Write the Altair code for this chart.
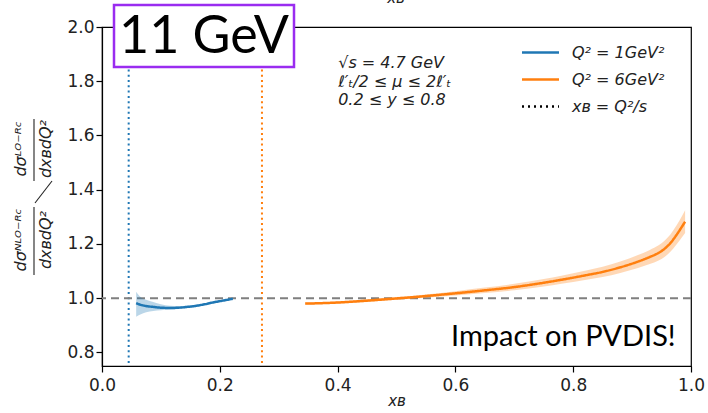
import altair as alt
import pandas as pd

# ---------------- data ----------------
blue_x  = [0.058, 0.065, 0.075, 0.087, 0.100, 0.115, 0.130, 0.145, 0.160, 0.175, 0.190, 0.205, 0.222]
blue_y  = [0.982, 0.976, 0.971, 0.968, 0.965, 0.964, 0.965, 0.968, 0.972, 0.978, 0.985, 0.991, 0.998]
blue_lo = [0.932, 0.940, 0.948, 0.953, 0.956, 0.958, 0.960, 0.964, 0.968, 0.975, 0.982, 0.989, 0.996]
blue_hi = [1.024, 1.005, 0.994, 0.986, 0.978, 0.972, 0.971, 0.972, 0.976, 0.981, 0.988, 0.993, 1.000]

orange_x  = [0.345, 0.40, 0.45, 0.50, 0.55, 0.60, 0.65, 0.70, 0.75, 0.78, 0.82, 0.85, 0.88, 0.91, 0.93, 0.945, 0.955, 0.965, 0.975, 0.985, 0.99]
orange_y  = [0.980, 0.984, 0.991, 0.999, 1.008, 1.018, 1.029, 1.041, 1.057, 1.068, 1.084, 1.097, 1.114, 1.135, 1.152, 1.167, 1.182, 1.203, 1.232, 1.265, 1.282]
orange_lo = [0.976, 0.980, 0.986, 0.994, 1.002, 1.010, 1.019, 1.029, 1.043, 1.053, 1.067, 1.078, 1.093, 1.111, 1.126, 1.139, 1.152, 1.171, 1.197, 1.226, 1.240]
orange_hi = [0.984, 0.988, 0.996, 1.004, 1.014, 1.026, 1.039, 1.053, 1.071, 1.083, 1.101, 1.116, 1.135, 1.159, 1.178, 1.195, 1.212, 1.235, 1.267, 1.304, 1.324]

series_names = ["Q² = 1GeV²", "Q² = 6GeV²", "xʙ = Q²/s"]
series_colors = ["#1f77b4", "#ff7f0e", "#000000"]

xq_values = [0.0453, 0.2716]          # x_B = Q^2/s for the two Q^2
xq_colors = ["#1f77b4", "#ff7f0e"]
ref_y = [1.0]

x_ticks = [0.0, 0.2, 0.4, 0.6, 0.8, 1.0]
y_ticks = [0.8, 1.0, 1.2, 1.4, 1.6, 1.8, 2.0]

info_lines = ["√s = 4.7 GeV", "ℓ′ₜ/2 ≤ μ ≤ 2ℓ′ₜ", "0.2 ≤ y ≤ 0.8"]
info_x = [0.401, 0.401, 0.401]
info_y = [1.866, 1.796, 1.730]

impact_text = ["Impact on PVDIS!"]
impact_x = [0.974]
impact_y = [0.822]

# ---------------- tables ----------------
lines_df = pd.DataFrame({
    "x": blue_x + orange_x,
    "y": blue_y + orange_y,
    "series": [series_names[0]] * len(blue_x) + [series_names[1]] * len(orange_x),
})
blue_df = pd.DataFrame({"x": blue_x, "lo": blue_lo, "hi": blue_hi})
orange_df = pd.DataFrame({"x": orange_x, "lo": orange_lo, "hi": orange_hi})
xq_df = pd.DataFrame({"x": xq_values, "c": xq_colors})
ref_df = pd.DataFrame({"y": ref_y})
info_df = pd.DataFrame({"x": info_x, "y": info_y, "t": info_lines})
impact_df = pd.DataFrame({"x": impact_x, "y": impact_y, "t": impact_text})

xscale = alt.Scale(domain=[0, 1], nice=False, zero=False)
yscale = alt.Scale(domain=[0.75, 2.0], nice=False, zero=False)
xaxis = alt.Axis(values=x_ticks, format=".1f", title="xʙ", titleFont="DejaVu Sans",
                 titleFontStyle="italic", titleFontWeight="normal", titleFontSize=15,
                 titleColor="#222", titlePadding=0, labelPadding=5, labelFlush=False)
yaxis = alt.Axis(values=y_ticks, format=".1f", title=None, labelPadding=2, labelFlush=False)


def X(f):
    return alt.X(f"{f}:Q", scale=xscale, axis=xaxis)


def Y(f):
    return alt.Y(f"{f}:Q", scale=yscale, axis=yaxis)


blue_band = alt.Chart(blue_df).mark_area(color="#1f77b4", opacity=0.3, interpolate="monotone").encode(
    x=X("x"), y=Y("lo"), y2="hi")
orange_band = alt.Chart(orange_df).mark_area(color="#ff7f0e", opacity=0.3, interpolate="monotone").encode(
    x=X("x"), y=Y("lo"), y2="hi")

vlines = alt.Chart(xq_df).mark_rule(strokeWidth=2, strokeDash=[2, 3.3]).encode(
    x=X("x"), color=alt.Color("c:N", scale=None))

hline = alt.Chart(ref_df).mark_rule(color="#7f7f7f", strokeWidth=2, strokeDash=[8, 5]).encode(
    y=Y("y"))

legend = alt.Legend(
    title=None, orient="none", legendX=428, legendY=15, padding=0,
    symbolType="M-2,0H2", symbolSize=342, symbolStrokeWidth=2.5,
    labelFont="DejaVu Sans", labelFontStyle="italic", labelFontSize=16,
    labelColor="#222", labelOffset=21, rowPadding=8,
)

lines = alt.Chart(lines_df).mark_line(strokeWidth=2.5, interpolate="monotone").encode(
    x=X("x"), y=Y("y"),
    color=alt.Color("series:N", scale=alt.Scale(domain=series_names, range=series_colors), legend=legend),
    strokeDash=alt.StrokeDash("series:N", scale=alt.Scale(domain=series_names, range=[[1, 0], [1, 0], [2, 4]]), legend=legend),
)

info = alt.Chart(info_df).mark_text(align="left", baseline="middle", font="DejaVu Sans",
                                    fontStyle="italic", fontSize=16, color="#222").encode(
    x=X("x"), y=Y("y"), text="t:N")

impact = alt.Chart(impact_df).mark_text(align="right", baseline="alphabetic", font="Lato",
                                        fontSize=29, color="black").encode(
    x=X("x"), y=Y("y"), text="t:N")


# y-axis title pieces (rotated fractions)
def yt(txt, xv, yv, size=16):
    return alt.Chart(pd.DataFrame({"t": [txt]})).mark_text(
        angle=270, font="DejaVu Sans", fontStyle="italic", fontSize=size, color="#222",
        align="center", baseline="middle").encode(x=alt.value(xv), y=alt.value(yv), text="t:N")


def seg(x1, y1, x2, y2):
    return alt.Chart(pd.DataFrame({"a": [0]})).mark_rule(color="#222", strokeWidth=1.1).encode(
        x=alt.value(x1), y=alt.value(y1), x2=alt.value(x2), y2=alt.value(y2))


ytitle = alt.layer(
    yt("dσᴺᴸᴼ⁻ᴿᶜ", -81, 213),
    yt("dxʙdQ²", -56, 213),
    yt("dσᴸᴼ⁻ᴿᶜ", -81, 122),
    yt("dxʙdQ²", -56, 122),
    seg(-68, 180, -68, 248),
    seg(-68, 92, -68, 154),
    seg(-67, 176, -50, 154),
)

top_label = alt.Chart(pd.DataFrame({"t": ["xʙ"]})).mark_text(
    font="DejaVu Sans", fontStyle="italic", fontSize=15, color="#222", baseline="middle").encode(
    x=alt.value(294), y=alt.value(-29), text="t:N")

box = alt.Chart(pd.DataFrame({"a": [0]})).mark_rect(fill="white", stroke="#9a2cf0", strokeWidth=2.5).encode(
    x=alt.value(12), x2=alt.value(192), y=alt.value(-22), y2=alt.value(40))
box_text = alt.Chart(pd.DataFrame({"t": ["11 GeV"]})).mark_text(
    font="Lato", fontSize=52, color="black", align="center", baseline="alphabetic").encode(
    x=alt.value(102), y=alt.value(26), text="t:N")

chart = alt.layer(
    vlines, hline, blue_band, orange_band, lines, info, impact, ytitle, top_label, box, box_text
).properties(
    width=589, height=339,
    autosize=alt.AutoSizeParams(type="none"),
    padding={"left": 102, "top": 27, "right": 17, "bottom": 47},
).configure_view(
    stroke="black", strokeWidth=1.2
).configure_axis(
    domainColor="black", domainWidth=1.2, tickColor="black", tickWidth=1.2, tickSize=6,
    labelFont="DejaVu Sans", labelFontSize=17, labelColor="#222", grid=False,
)

chart.save("out.html", embed_options={"renderer": "svg", "actions": False})
